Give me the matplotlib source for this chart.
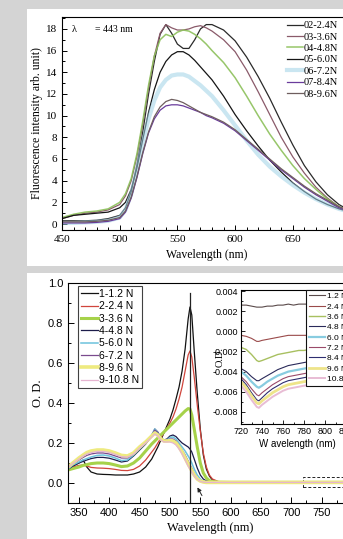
import matplotlib
matplotlib.use("Agg")
import matplotlib.pyplot as plt
from matplotlib.patches import Rectangle
from matplotlib.ticker import MultipleLocator, FormatStrFormatter

# ---------------- data: top panel (fluorescence) ----------------
fl_wl = [450, 460, 470, 480, 490, 500, 505, 510, 515, 520, 525, 530, 535, 540, 545, 550, 555,
         560, 565, 570, 575, 580, 590, 600, 610, 620, 630, 640, 650, 660, 670, 680, 690, 700]
fl_labels = ["02-2.4N", "03-3.6N", "04-4.8N", "05-6.0N", "06-7.2N", "07-8.4N", "08-9.6N"]
fl_02 = [0.3, 0.3, 0.3, 0.35, 0.5, 0.8, 1.5, 3.0, 5.5, 8.5, 12.0, 15.0, 17.5, 18.4, 17.6, 16.6, 16.2,
         16.2, 17.0, 18.0, 18.4, 18.4, 17.9, 16.9, 15.4, 13.6, 11.6, 9.4, 7.3, 5.4, 3.9, 2.7, 1.8, 1.2]
fl_03 = [0.5, 0.8, 1.0, 1.1, 1.3, 1.8, 2.6, 4.0, 6.3, 9.2, 12.5, 15.5, 17.6, 18.4, 18.1, 17.9, 17.9,
         18.0, 18.2, 18.3, 18.1, 17.8, 17.0, 15.9, 14.2, 12.2, 10.1, 8.0, 6.2, 4.7, 3.4, 2.4, 1.6, 1.1]
fl_04 = [0.6, 0.9, 1.1, 1.2, 1.4, 2.0, 2.8, 4.2, 6.5, 9.5, 12.8, 15.5, 17.0, 17.5, 17.3, 17.7, 17.9,
         17.8, 17.5, 17.1, 16.6, 16.0, 14.9, 13.5, 11.8, 10.0, 8.3, 6.8, 5.4, 4.2, 3.2, 2.3, 1.6, 1.1]
fl_05 = [0.5, 0.8, 0.9, 1.0, 1.1, 1.5, 2.0, 3.2, 5.2, 7.8, 10.3, 12.4, 14.0, 15.0, 15.6, 15.9, 15.9,
         15.6, 15.1, 14.5, 13.9, 13.3, 11.8, 10.1, 8.6, 7.2, 5.9, 4.8, 3.8, 3.0, 2.3, 1.8, 1.4, 1.1]
fl_06 = [0.1, 0.1, 0.15, 0.2, 0.3, 0.6, 1.3, 2.8, 5.0, 7.5, 9.7, 11.4, 12.6, 13.3, 13.7, 13.8, 13.8,
         13.6, 13.2, 12.8, 12.3, 11.8, 10.5, 9.1, 7.7, 6.4, 5.3, 4.4, 3.6, 2.9, 2.3, 1.8, 1.4, 1.1]
fl_07 = [0.1, 0.1, 0.1, 0.15, 0.25, 0.5, 1.1, 2.4, 4.3, 6.5, 8.4, 9.7, 10.5, 10.9, 11.0, 11.0, 10.9,
         10.7, 10.5, 10.3, 10.0, 9.8, 9.3, 8.6, 7.7, 6.8, 5.9, 5.0, 4.2, 3.4, 2.7, 2.1, 1.5, 1.1]
fl_08 = [0.2, 0.2, 0.2, 0.25, 0.35, 0.6, 1.2, 2.5, 4.4, 6.6, 8.5, 9.9, 10.8, 11.3, 11.5, 11.4, 11.2,
         10.9, 10.6, 10.3, 10.1, 9.9, 9.4, 8.7, 7.8, 6.9, 6.0, 5.1, 4.3, 3.5, 2.8, 2.2, 1.6, 1.2]
fl_series = [fl_02, fl_03, fl_04, fl_05, fl_06, fl_07, fl_08]
fl_colors = ["#2a2a2a", "#8a5a6a", "#8cc05a", "#151515", "#9fd2e6", "#6a3c9c", "#6e5e5e"]
fl_widths = [0.9, 0.9, 1.1, 0.9, 3.0, 0.9, 0.9]
fl_alpha = [1, 1, 0.9, 1, 0.55, 1, 1]

# ---------------- data: bottom panel (absorption) ----------------
od_wl = [332, 340, 350, 357, 363, 370, 380, 390, 400, 410, 420, 430, 440, 450, 460, 470, 475, 480,
         485, 490, 495, 500, 505, 510, 515, 520, 525, 530, 533, 536, 540, 545, 550, 555, 560, 565,
         570, 580, 600, 650, 700, 750, 800]
od_labels = ["1-1.2 N", "2-2.4 N", "3-3.6 N", "4-4.8 N", "5-6.0 N", "6-7.2 N", "8-9.6 N", "9-10.8 N"]
od_1 = [0.075, 0.085, 0.10, 0.115, 0.08, 0.055, 0.045, 0.043, 0.042, 0.04, 0.04, 0.04, 0.045, 0.055,
        0.08, 0.12, 0.15, 0.18, 0.215, 0.25, 0.285, 0.32, 0.365, 0.42, 0.48, 0.56, 0.67, 0.82, 0.88,
        0.84, 0.66, 0.45, 0.27, 0.14, 0.07, 0.035, 0.015, 0.005, 0.003, 0.003, 0.003, 0.003, 0.003]
od_2 = [0.07, 0.08, 0.088, 0.09, 0.085, 0.078, 0.075, 0.074, 0.072, 0.068, 0.063, 0.062, 0.068, 0.085,
        0.115, 0.155, 0.175, 0.2, 0.225, 0.25, 0.275, 0.3, 0.33, 0.37, 0.42, 0.48, 0.56, 0.64, 0.66,
        0.63, 0.53, 0.39, 0.26, 0.15, 0.08, 0.04, 0.02, 0.007, 0.004, 0.004, 0.004, 0.004, 0.004]
od_3 = [0.065, 0.072, 0.08, 0.088, 0.092, 0.097, 0.1, 0.1, 0.097, 0.09, 0.082, 0.085, 0.1, 0.125,
        0.16, 0.195, 0.21, 0.225, 0.24, 0.255, 0.27, 0.285, 0.3, 0.315, 0.33, 0.345, 0.36, 0.372, 0.37,
        0.34, 0.27, 0.18, 0.1, 0.05, 0.025, 0.012, 0.007, 0.004, 0.003, 0.003, 0.003, 0.003, 0.003]
od_4 = [0.068, 0.085, 0.10, 0.108, 0.115, 0.122, 0.128, 0.128, 0.124, 0.115, 0.105, 0.11, 0.135, 0.165,
        0.195, 0.235, 0.27, 0.255, 0.225, 0.215, 0.22, 0.235, 0.24, 0.232, 0.215, 0.2, 0.19, 0.18, 0.17,
        0.155, 0.12, 0.075, 0.04, 0.02, 0.01, 0.006, 0.004, 0.003, 0.003, 0.003, 0.003, 0.003, 0.003]
od_5 = [0.07, 0.09, 0.105, 0.115, 0.122, 0.13, 0.138, 0.14, 0.135, 0.125, 0.112, 0.115, 0.14, 0.17,
        0.2, 0.24, 0.27, 0.25, 0.22, 0.21, 0.215, 0.228, 0.23, 0.22, 0.2, 0.18, 0.16, 0.135, 0.12,
        0.1, 0.07, 0.04, 0.02, 0.01, 0.006, 0.004, 0.003, 0.003, 0.003, 0.003, 0.003, 0.003, 0.003]
od_6 = [0.075, 0.095, 0.115, 0.128, 0.138, 0.145, 0.15, 0.15, 0.145, 0.135, 0.125, 0.125, 0.145, 0.175,
        0.205, 0.24, 0.265, 0.25, 0.225, 0.215, 0.215, 0.22, 0.22, 0.21, 0.19, 0.165, 0.14, 0.11, 0.09,
        0.075, 0.05, 0.025, 0.012, 0.006, 0.004, 0.003, 0.003, 0.003, 0.003, 0.003, 0.003, 0.003, 0.003]
od_8 = [0.08, 0.1, 0.125, 0.14, 0.152, 0.16, 0.165, 0.165, 0.16, 0.15, 0.138, 0.135, 0.15, 0.18,
        0.205, 0.235, 0.25, 0.24, 0.22, 0.21, 0.21, 0.212, 0.21, 0.2, 0.18, 0.155, 0.125, 0.095, 0.078,
        0.062, 0.04, 0.02, 0.01, 0.005, 0.003, 0.003, 0.003, 0.003, 0.003, 0.003, 0.003, 0.003, 0.003]
od_9 = [0.078, 0.098, 0.12, 0.135, 0.145, 0.152, 0.158, 0.158, 0.153, 0.143, 0.132, 0.13, 0.145, 0.175,
        0.2, 0.23, 0.245, 0.235, 0.215, 0.205, 0.205, 0.205, 0.2, 0.19, 0.17, 0.145, 0.115, 0.085, 0.07,
        0.055, 0.035, 0.018, 0.008, 0.004, 0.003, 0.003, 0.003, 0.003, 0.003, 0.003, 0.003, 0.003, 0.003]
od_series = [od_1, od_2, od_3, od_4, od_5, od_6, od_8, od_9]
od_colors = ["#111111", "#d0453c", "#a6d24a", "#1c1c4a", "#6cc2dc", "#7a4a8e", "#eeea80", "#e6b4d0"]
od_widths = [0.9, 0.9, 2.2, 0.9, 1.1, 0.9, 2.6, 0.9]

# inset data
in_wl = [720, 725, 730, 735, 737, 740, 745, 750, 755, 760, 765, 770, 775, 780, 785, 790]
in_labels = ["1.2 N", "2.4 N", "3.6 N", "4.8 N", "6.0 N", "7.2 N", "8.4 N", "9.6 N", "10.8 N"]
in_1 = [0.0026, 0.0026, 0.0025, 0.0024, 0.0024, 0.0024, 0.0025, 0.0025, 0.0026, 0.0026, 0.0027, 0.0026, 0.0027, 0.0027, 0.0027, 0.0027]
in_2 = [-0.0004, -0.0005, -0.0007, -0.0010, -0.0010, -0.0009, -0.0008, -0.0007, -0.0006, -0.0005, -0.0004, -0.0004, -0.0004, -0.0004, -0.0004, -0.0004]
in_3 = [-0.0016, -0.0018, -0.0023, -0.0029, -0.0030, -0.0029, -0.0027, -0.0025, -0.0023, -0.0022, -0.0021, -0.0020, -0.0019, -0.0019, -0.0018, -0.0018]
in_4 = [-0.0037, -0.0040, -0.0045, -0.0049, -0.0049, -0.0047, -0.0044, -0.0041, -0.0038, -0.0036, -0.0034, -0.0033, -0.0032, -0.0031, -0.0030, -0.0030]
in_5 = [-0.0040, -0.0044, -0.0050, -0.0055, -0.0056, -0.0054, -0.0050, -0.0047, -0.0044, -0.0042, -0.0040, -0.0039, -0.0038, -0.0037, -0.0036, -0.0035]
in_6 = [-0.0045, -0.0050, -0.0057, -0.0063, -0.0064, -0.0061, -0.0057, -0.0053, -0.0050, -0.0047, -0.0045, -0.0044, -0.0043, -0.0042, -0.0041, -0.0040]
in_7 = [-0.0047, -0.0053, -0.0061, -0.0068, -0.0069, -0.0066, -0.0061, -0.0057, -0.0054, -0.0051, -0.0049, -0.0048, -0.0047, -0.0046, -0.0045, -0.0044]
in_8 = [-0.0050, -0.0056, -0.0064, -0.0071, -0.0072, -0.0069, -0.0065, -0.0061, -0.0058, -0.0055, -0.0053, -0.0052, -0.0051, -0.0050, -0.0049, -0.0048]
in_9 = [-0.0054, -0.0060, -0.0068, -0.0075, -0.0076, -0.0073, -0.0069, -0.0065, -0.0062, -0.0059, -0.0057, -0.0056, -0.0055, -0.0054, -0.0053, -0.0052]
in_series = [in_1, in_2, in_3, in_4, in_5, in_6, in_7, in_8, in_9]
in_colors = ["#5a4a4a", "#9a4a4a", "#a8c060", "#2a2a5a", "#88cce0", "#9a4a6a", "#2e2e70", "#eee48a", "#e8bcd4"]
in_widths = [0.8, 0.8, 1.0, 0.8, 1.6, 0.8, 0.8, 2.0, 1.4]

peak_nm = 533
peak_line_top = 0.95
box_x = (719, 800)
box_y = (-0.02, 0.03)
arrow_tail = (555, -0.075)
arrow_head = (543, -0.01)

# ---------------- figure ----------------
W, H = 343, 539
fig = plt.figure(figsize=(W / 100, H / 100), dpi=100)
fig.patch.set_facecolor("#d4d4d4")

def fr(x0, y0, x1, y1):
    return [x0 / W, 1 - y1 / H, (x1 - x0) / W, (y1 - y0) / H]

for (x0, y0, x1, y1) in [(27, 9, 343, 266), (27, 273, 343, 539)]:
    fig.add_artist(Rectangle((x0 / W, 1 - y1 / H), (x1 - x0) / W, (y1 - y0) / H,
                             transform=fig.transFigure, facecolor="white",
                             edgecolor="none", zorder=-10))

SERIF = "Liberation Serif"
SANS = "Liberation Sans"

# ---------------- top panel ----------------
ax1 = fig.add_axes(fr(62, 17, 350.5, 230))
ax1.set_zorder(1)
for y, c, lw, a, lab in zip(fl_series, fl_colors, fl_widths, fl_alpha, fl_labels):
    ax1.plot(fl_wl, y, color=c, lw=lw, alpha=a, label=lab)
ax1.set_xlim(450, 700)
ax1.set_ylim(-0.55, 19.1)
ax1.xaxis.set_major_locator(MultipleLocator(50))
ax1.xaxis.set_minor_locator(MultipleLocator(10))
ax1.yaxis.set_major_locator(MultipleLocator(2))
ax1.yaxis.set_minor_locator(MultipleLocator(1))
ax1.tick_params(which="both", direction="in", labelsize=8, labelfontfamily=SERIF, width=0.7)
ax1.tick_params(which="major", length=3.5)
ax1.tick_params(which="minor", length=2)
for s in ax1.spines.values():
    s.set_linewidth(0.8)
ax1.set_ylabel("Fluorescence intensity arb. unit)", fontsize=8.5, family=SERIF, labelpad=2)
ax1.set_xlabel("Wavelength (nm)", fontsize=8.5, family=SERIF, labelpad=4)
ax1.text(72 / W, 1 - 29 / H, "λ", fontsize=7.5, family=SERIF, va="center", transform=fig.transFigure)
ax1.text(95 / W, 1 - 29 / H, "= 443 nm", fontsize=7, family=SERIF, va="center", transform=fig.transFigure)
ax1.legend(loc="upper left", bbox_to_anchor=(287 / W, 1 - 21 / H), bbox_transform=fig.transFigure,
           frameon=False, prop={"family": SERIF, "size": 7.5}, handlelength=1.5, handletextpad=0.1,
           labelspacing=0.2, borderpad=0, borderaxespad=0)

# ---------------- bottom panel ----------------
ax2 = fig.add_axes(fr(68, 283, 352, 503))
ax2.set_zorder(1)
for y, c, lw, lab in zip(od_series, od_colors, od_widths, od_labels):
    ax2.plot(od_wl, y, color=c, lw=lw, label=lab)
ax2.plot([peak_nm, peak_nm], [-0.1, peak_line_top], color="#222222", lw=0.9)
ax2.add_patch(Rectangle((box_x[0], box_y[0]), box_x[1] - box_x[0], box_y[1] - box_y[0],
                        fill=False, ls=(0, (3, 2)), lw=0.7, edgecolor="#222222"))
ax2.annotate("", xy=arrow_head, xytext=arrow_tail,
             arrowprops=dict(arrowstyle="-|>", color="#222222", lw=0.7, mutation_scale=6))
ax2.set_xlim(332, 800)
ax2.set_ylim(-0.1, 1.0)
ax2.xaxis.set_major_locator(MultipleLocator(50))
ax2.xaxis.set_minor_locator(MultipleLocator(25))
ax2.yaxis.set_major_locator(MultipleLocator(0.2))
ax2.yaxis.set_minor_locator(MultipleLocator(0.1))
ax2.tick_params(which="both", direction="in", labelsize=8, labelfontfamily=SANS, width=0.7)
ax2.tick_params(which="major", length=4)
ax2.tick_params(which="minor", length=2.5)
for s in ax2.spines.values():
    s.set_linewidth(0.8)
ax2.set_ylabel("O. D.", fontsize=9, family=SERIF, labelpad=3)
ax2.set_xlabel("Wavelength (nm)", fontsize=9, family=SERIF, labelpad=3)
leg = ax2.legend(loc="upper left", bbox_to_anchor=(78 / W, 1 - 286 / H), bbox_transform=fig.transFigure,
                 frameon=True, fancybox=False, prop={"family": SANS, "size": 7.5}, handlelength=1.6,
                 handletextpad=0.1, labelspacing=0.22, borderpad=0.3, borderaxespad=0)
leg.get_frame().set_edgecolor("#111111")
leg.get_frame().set_linewidth(0.8)

# ---------------- inset ----------------
ax3 = fig.add_axes(fr(241, 290, 354.5, 424))
ax3.set_zorder(2)
for y, c, lw, lab in zip(in_series, in_colors, in_widths, in_labels):
    ax3.plot(in_wl, y, color=c, lw=lw, label=lab)
ax3.set_xlim(720, 828)
ax3.set_ylim(-0.0092, 0.0041)
ax3.xaxis.set_major_locator(MultipleLocator(20))
ax3.xaxis.set_minor_locator(MultipleLocator(10))
ax3.yaxis.set_major_locator(MultipleLocator(0.002))
ax3.yaxis.set_minor_locator(MultipleLocator(0.001))
ax3.yaxis.set_major_formatter(FormatStrFormatter("%.3f"))
ax3.tick_params(which="both", direction="in", labelsize=6.5, labelfontfamily=SANS, width=0.6, pad=2)
ax3.tick_params(which="major", length=3)
ax3.tick_params(which="minor", length=1.5)
for s in ax3.spines.values():
    s.set_linewidth(0.8)
ax3.set_xlabel("W avelength (nm)", fontsize=7, family=SANS, labelpad=2)
ax3.set_ylabel("O.D.", fontsize=7.5, family=SERIF, labelpad=-9)
leg3 = ax3.legend(loc="upper left", bbox_to_anchor=(306 / W, 1 - 290 / H), bbox_transform=fig.transFigure,
                  frameon=True, fancybox=False, prop={"family": SANS, "size": 6}, handlelength=2.0,
                  handletextpad=0.2, labelspacing=0.3, borderpad=0.3, borderaxespad=0)
leg3.get_frame().set_edgecolor("#111111")
leg3.get_frame().set_linewidth(0.8)
leg3.get_frame().set_alpha(1)

fig.savefig("out.png", dpi=100, facecolor=fig.get_facecolor())
